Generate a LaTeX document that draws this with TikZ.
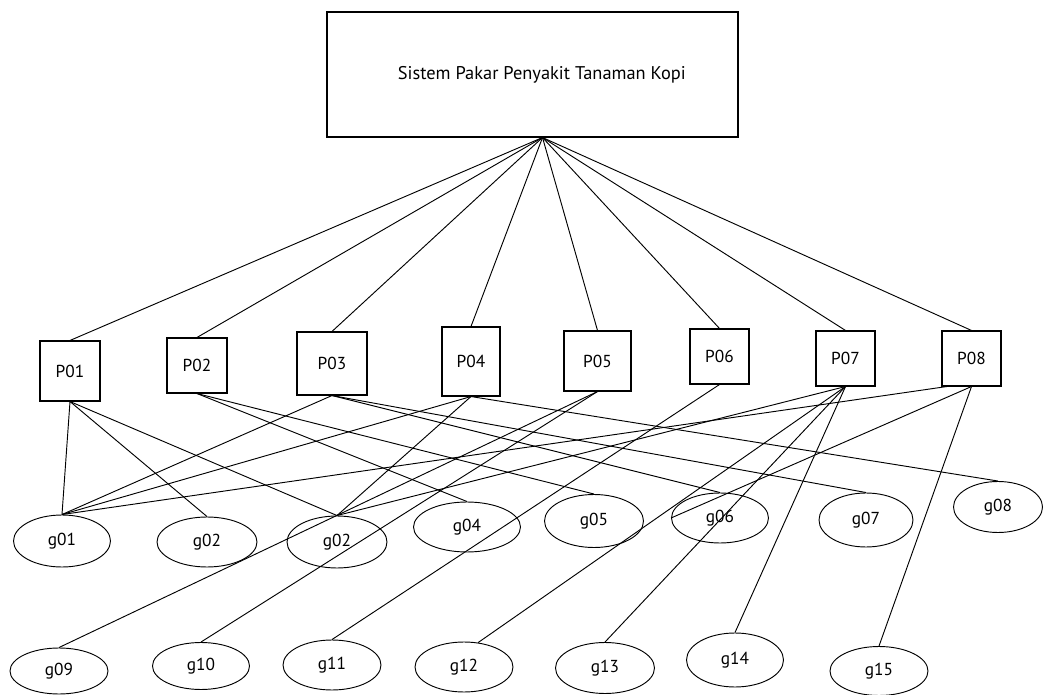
\documentclass[tikz,border=0pt]{standalone}
\usepackage{fontspec}
\setmainfont{PT Sans}
\usetikzlibrary{shapes.geometric}
\tikzset{
  lbl/.style={font=\fontsize{13pt}{15pt}\selectfont},
  rootbox/.style={draw, rectangle, font=\fontsize{13.8pt}{16pt}\selectfont, line width=0.8pt, inner sep=0pt},
  pbox/.style 2 args={draw, rectangle, lbl, line width=0.8pt, inner sep=0pt,
    minimum width=#1*0.75pt, minimum height=#2*0.75pt},
  gell/.style 2 args={draw, ellipse, lbl, line width=0.7pt, inner sep=0pt,
    minimum width=#1*0.75pt, minimum height=#2*0.75pt},
  link/.style={line width=0.7pt}
}
\begin{document}
\begin{tikzpicture}[x=0.75pt, y=-0.75pt]
\useasboundingbox (0,0) rectangle (1043,695);
% root
\node[rootbox, minimum width=411*0.75pt, minimum height=125*0.75pt] (root) at (532.5,74.5) {\hspace*{14pt}Sistem Pakar Penyakit Tanaman Kopi};
\coordinate (hub) at ([xshift=7.5pt]root.south);
% diseases
\node[pbox={60}{60}] (p1) at (70,371) {P01};
\node[pbox={60}{55}] (p2) at (197,365.5) {P02};
\node[pbox={70}{63}] (p3) at (332,363.5) {P03};
\node[pbox={58}{69}] (p4) at (471,361.5) {P04};
\node[pbox={67}{60}] (p5) at (597.5,361) {P05};
\node[pbox={59}{55}] (p6) at (719.5,356.5) {P06};
\node[pbox={59}{55}] (p7) at (845.5,358.5) {P07};
\node[pbox={59}{55}] (p8) at (971.5,358.5) {P08};
\coordinate (p8bl) at ([xshift=4pt]p8.south west);
% symptoms row 1
\node[gell={97}{52}] (g01) at (62,541) {g01};
\node[gell={100}{50}] (g02a) at (207,542) {g02};
\node[gell={100}{52}] (g02b) at (337,542) {g02};
\node[gell={107}{50}] (g04) at (467,527) {g04};
\node[gell={99}{53}] (g05) at (594,521) {g05};
\node[gell={97}{50}] (g06) at (720,518) {g06};
\node[gell={94}{54}] (g07) at (866,520) {g07};
\node[gell={89}{51}] (g08) at (998,507) {g08};
% symptoms row 2
\node[gell={98}{46}] (g09) at (59,671) {g09};
\node[gell={97}{47}] (g10) at (201,666) {g10};
\node[gell={98}{50}] (g11) at (332,665) {g11};
\node[gell={98}{50}] (g12) at (464,667) {g12};
\node[gell={99}{51}] (g13) at (605,668) {g13};
\node[gell={97}{54}] (g14) at (735,660) {g14};
\node[gell={98}{49}] (g15) at (879,671) {g15};
% root links
\foreach \p in {p1,p2,p3,p4,p5,p6,p7,p8}
  \draw[link] (hub) -- (\p.north);
% disease -> symptom links
\draw[link] (p1.south) -- (g01.north);
\draw[link] (p1.south) -- (g02a.north);
\draw[link] (p1.south) -- (g02b.north);
\draw[link] (p2.south) -- (g04.north);
\draw[link] (p2.south) -- (g05.north);
\draw[link] (p3.south) -- (g01.north);
\draw[link] (p3.south) -- (g06.north);
\draw[link] (p3.south) -- (g07.north);
\draw[link] (p4.south) -- (g01.north);
\draw[link] (p4.south) -- (g02b.north);
\draw[link] (p4.south) -- (g08.north);
\draw[link] (p5.south) -- (g09.north);
\draw[link] (p5.south) -- (g10.north);
\draw[link] (p6.south) -- (g11.north);
\draw[link] (p7.south) -- (g02b.north);
\draw[link] (p7.south) -- (g12.60);
\draw[link] (p7.south) -- (g13.north);
\draw[link] (p7.south) -- (g14.north);
\draw[link] (p8bl) -- (g01.north);
\draw[link] (p8.south) -- (g06.west);
\draw[link] (p8.south) -- (g15.north);
\end{tikzpicture}
\end{document}
